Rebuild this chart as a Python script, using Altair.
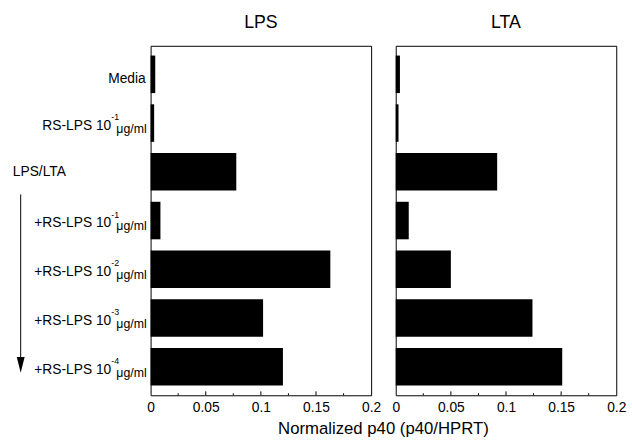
import altair as alt
import pandas as pd

F = "Liberation Sans"

categories = ["Media", "RS-LPS 10-1 μg/ml", "LPS/LTA", "+RS-LPS 10-1 μg/ml",
              "+RS-LPS 10-2 μg/ml", "+RS-LPS 10-3 μg/ml", "+RS-LPS 10-4 μg/ml"]
label_main = ["Media", "RS-LPS 10", "LPS/LTA", "+RS-LPS 10", "+RS-LPS 10", "+RS-LPS 10", "+RS-LPS 10"]
label_sup = ["", "-1", "", "-1", "-2", "-3", "-4"]
label_unit = ["", "μg/ml", "", "μg/ml", "μg/ml", "μg/ml", "μg/ml"]

lps_values = [0.0042, 0.0032, 0.0777, 0.0089, 0.163, 0.102, 0.120]
lta_values = [0.0038, 0.0025, 0.092, 0.0118, 0.050, 0.124, 0.151]

x_ticks = [0, 0.05, 0.1, 0.15, 0.2]
major_ticks = [0.05, 0.1, 0.15]
minor_ticks = [0.025, 0.075, 0.125, 0.175]

W, H = 224, 355

yscale = alt.Scale(domain=categories, paddingInner=0.23, paddingOuter=0.2)
xscale = alt.Scale(domain=[0, 0.2], nice=False, zero=True)
Y = alt.Y("cat:N", scale=yscale, sort=categories, axis=None)


def panel(values, title, left):
    df = pd.DataFrame({"cat": categories, "val": values})
    common = dict(values=x_ticks, format="~g", domain=False, ticks=False, grid=False,
                  labelFontSize=14, labelFont=F, labelColor="black", labelPadding=5,
                  labelFlush=False)
    if left:
        axis = alt.Axis(**common,
                        titleFont=F, titleFontSize=17,
                        titleFontWeight="normal", titleColor="black",
                        titleX=236, titleY=26, titleAlign="center", titleBaseline="top")
        xtitle = "Normalized p40 (p40/HPRT)"
    else:
        axis = alt.Axis(**common)
        xtitle = None
    bars = alt.Chart(df).mark_bar(color="black").encode(
        y=Y,
        x=alt.X("val:Q", scale=xscale, axis=axis, title=xtitle),
    )
    maj = alt.Chart(pd.DataFrame({"v": major_ticks})).mark_rule(color="black", strokeWidth=1).encode(
        x=alt.X("v:Q", scale=xscale), y=alt.value(H), y2=alt.value(H - 4))
    mnr = alt.Chart(pd.DataFrame({"v": minor_ticks})).mark_rule(color="black", strokeWidth=1).encode(
        x=alt.X("v:Q", scale=xscale), y=alt.value(H), y2=alt.value(H - 2))
    layers = [bars, maj, mnr]
    if left:
        lab = pd.DataFrame({"cat": categories, "main": label_main, "sup": label_sup, "unit": label_unit})
        base = alt.Chart(lab).encode(y=Y)
        plain = base.transform_filter("datum.unit == '' && datum.main != 'LPS/LTA'").mark_text(
            align="right", baseline="alphabetic", dy=9, fontSize=14, font=F, color="black"
        ).encode(x=alt.value(-5), text="main:N")
        lpslta = base.transform_filter("datum.main == 'LPS/LTA'").mark_text(
            align="left", baseline="alphabetic", dy=4, fontSize=14, font=F, color="black"
        ).encode(x=alt.value(-140), text="main:N")
        main = base.transform_filter("datum.unit != ''").mark_text(
            align="right", baseline="alphabetic", dy=7, fontSize=14, font=F, color="black"
        ).encode(x=alt.value(-40), text="main:N")
        sup = base.transform_filter("datum.unit != ''").mark_text(
            align="left", baseline="alphabetic", dy=-3, fontSize=9, font=F, color="black"
        ).encode(x=alt.value(-40), text="sup:N")
        unit = base.transform_filter("datum.unit != ''").mark_text(
            align="right", baseline="alphabetic", dy=10, fontSize=12.5, font=F, color="black"
        ).encode(x=alt.value(-4), text="unit:N")
        arrow_line = alt.Chart(pd.DataFrame({"a": [0]})).mark_rule(color="black", strokeWidth=1).encode(
            x=alt.value(-132), y=alt.value(151), y2=alt.value(318))
        arrow_head = alt.Chart(pd.DataFrame({"a": [0]})).mark_point(
            shape="M-0.5,-1L0.5,-1L0,1Z", filled=True, color="black", size=256, opacity=1
        ).encode(x=alt.value(-132), y=alt.value(324))
        layers += [plain, lpslta, main, sup, unit, arrow_line, arrow_head]
    return alt.layer(*layers).properties(
        width=W, height=H,
        title=alt.TitleParams(title, font=F, fontSize=18, fontWeight="normal", color="black",
                              anchor="middle", frame="group", offset=14),
    )


chart = alt.hconcat(panel(lps_values, "LPS", True), panel(lta_values, "LTA", False),
                    spacing=25, bounds="flush").properties(
    padding={"left": 12, "top": 10, "right": 5, "bottom": 5}
).configure_view(stroke="black", strokeWidth=1)

chart.save("out.html", embed_options={"renderer": "svg", "actions": False})
